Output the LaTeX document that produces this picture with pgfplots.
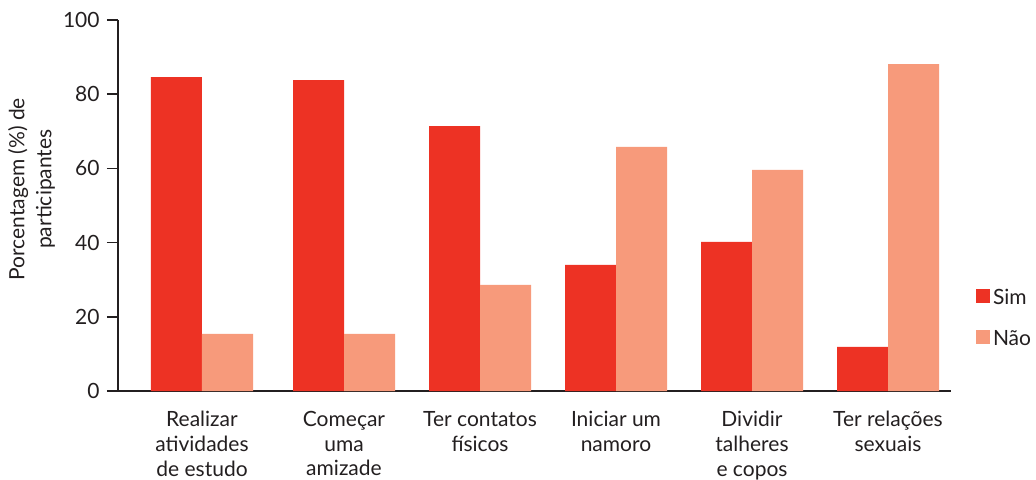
\documentclass[border=0pt]{standalone}
\usepackage{pgfplots}
\pgfplotsset{compat=1.18}
\usepackage{fontspec}
\setmainfont{Lato}

\definecolor{simred}{RGB}{237,50,36}
\definecolor{naosalmon}{RGB}{247,154,123}
\definecolor{inkgray}{RGB}{35,31,32}

\begin{document}
\begin{tikzpicture}[x=0.5pt]
\begin{axis}[
  scale only axis,
  width=416.5pt, height=185.5pt,
  xmin=118, xmax=951,
  ymin=0, ymax=100,
  clip=false,
  axis lines*=left,
  axis line style={inkgray, line width=0.75pt},
  ytick={0,20,40,60,80,100},
  tick align=outside,
  major tick length=5.5pt,
  ytick style={inkgray, line width=0.75pt},
  xtick={202,344,480,616,752,888},
  xticklabels={{Realizar\\atividades\\de estudo},{Começar\\uma\\amizade},{Ter contatos\\físicos},{Iniciar um\\namoro},{Dividir\\talheres\\e copos},{Ter relações\\sexuais}},
  xtick style={draw=none},
  xticklabel style={align=center, font=\fontsize{10.5}{12.3}\selectfont, text=inkgray, inner sep=0pt, yshift=-4.5pt},
  yticklabel style={font=\fontsize{10.5}{12.5}\selectfont, text=inkgray, inner sep=0pt, xshift=-3.5pt},
  /pgf/number format/assume math mode=true,
  ybar=0pt,
  bar width=51,
  legend style={at={(axis cs:976,27.6)}, anchor=north west, draw=none, fill=none,
    inner sep=0pt, outer sep=0pt, row sep=12.5pt,
    font=\fontsize{10.5}{12.5}\selectfont, text=inkgray,
    nodes={inner sep=0pt, text height=8pt, text depth=0pt},
    /tikz/every even column/.append style={column sep=0pt}},
  legend cell align=left,
]
\addplot[draw=none, fill=simred, bar shift=-25.5,
  legend image code/.code={\fill[simred] (0pt,-3pt) rectangle (7pt,4pt);}]
  coordinates {(202,84.6) (344,83.8) (480,71.4) (616,34.0) (752,40.2) (888,11.9)};
\addplot[draw=none, fill=naosalmon, bar shift=25.5,
  legend image code/.code={\fill[naosalmon] (0pt,-3pt) rectangle (7pt,4pt);}]
  coordinates {(202,15.4) (344,15.4) (480,28.6) (616,65.8) (752,59.6) (888,88.1)};
\legend{\hspace{1.5pt}Sim,\hspace{1.5pt}Não}
\node[rotate=90, align=center, font=\fontsize{10.5}{13.5}\selectfont, text=inkgray]
  at (axis cs:31.5,54.4) {Porcentagem (\%) de\\participantes};
\coordinate (bbl) at (axis cs:0,-23.72);
\coordinate (btr) at (axis cs:1036,105.39);
\end{axis}
\path (bbl) rectangle (btr);
\end{tikzpicture}
\end{document}
